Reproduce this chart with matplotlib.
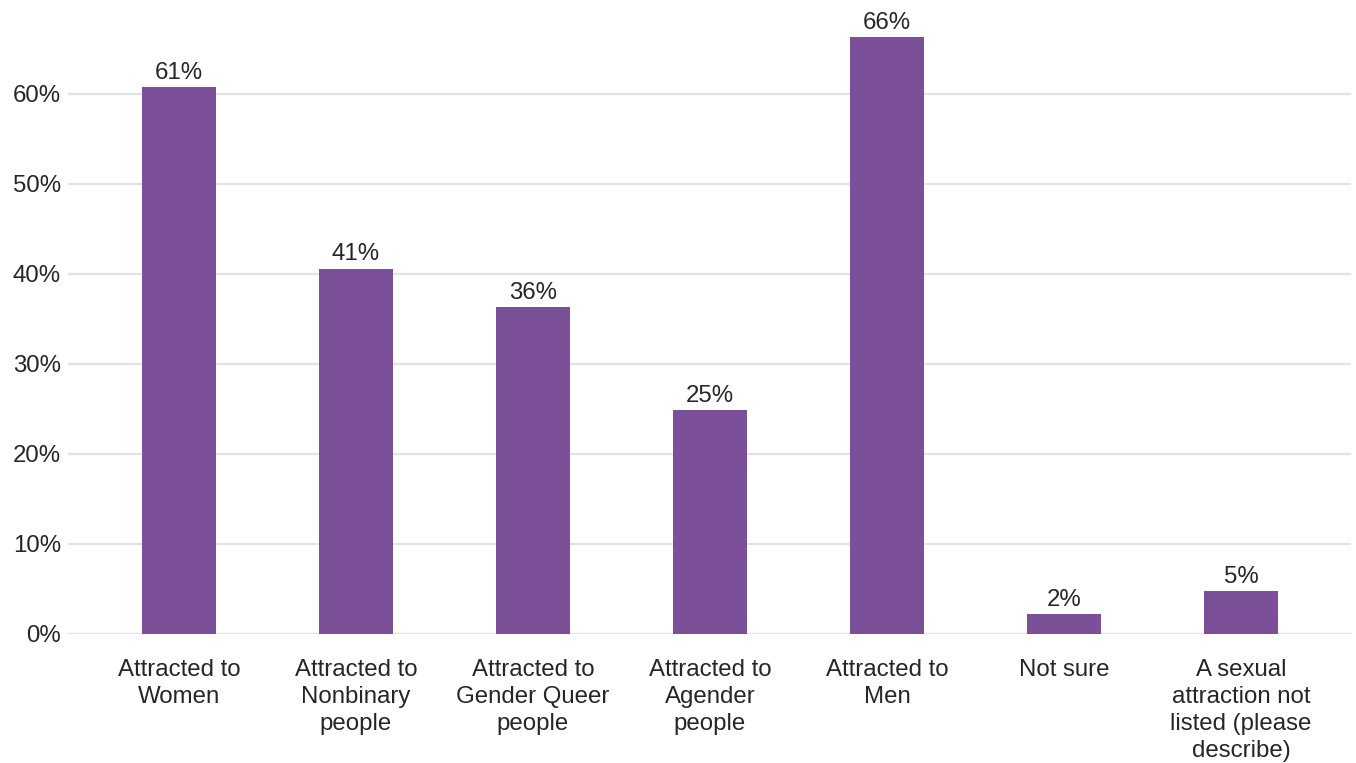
import matplotlib
matplotlib.use('Agg')
import matplotlib.pyplot as plt
import numpy as np

categories = ['Attracted to\nWomen', 'Attracted to\nNonbinary\npeople', 'Attracted to\nGender Queer\npeople',
              'Attracted to\nAgender\npeople', 'Attracted to\nMen', 'Not sure',
              'A sexual\nattraction not\nlisted (please\ndescribe)']
values = [60.8, 40.6, 36.3, 24.9, 66.3, 2.2, 4.8]
yticks = [0, 10, 20, 30, 40, 50, 60]

plt.rcParams['font.family'] = ['Liberation Sans', 'DejaVu Sans']
textcol = '#262626'
fs = 17.3

fig = plt.figure(figsize=(13.56, 7.63), dpi=100)
ax = fig.add_axes([0.0501, 0.1691, 0.9462, 0.8257])

x = np.arange(len(categories))
ax.bar(x, values, width=0.418, color='#7b5098', zorder=3)
for xi, v in zip(x, values):
	ax.text(xi, v + 0.35, '%d%%' % round(v), ha='center', va='bottom', fontsize=fs, color=textcol)

ax.set_xlim(-0.627, 6.621)
ax.set_ylim(0, 70)
ax.set_yticks(yticks)
ax.set_yticklabels(['%d%%' % t for t in yticks], fontsize=fs, color=textcol)
ax.set_xticks(x)
ax.set_xticklabels(categories, fontsize=fs, color=textcol, linespacing=1.29)
ax.tick_params(axis='both', length=0)
ax.tick_params(axis='x', pad=18)
ax.tick_params(axis='y', pad=5)
ax.grid(axis='y', color='#e3e3e3', linewidth=1.6, zorder=0)
for s in ax.spines.values():
	s.set_visible(False)

fig.savefig('out.png', dpi=100)
